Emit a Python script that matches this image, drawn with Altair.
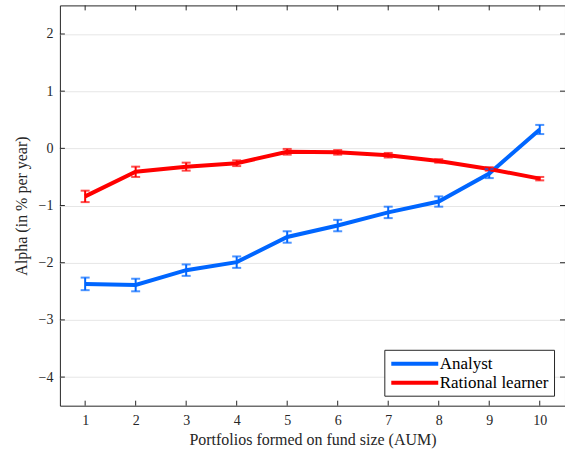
import altair as alt
import pandas as pd

# Portfolio deciles sorted by fund size
portfolios = [1, 2, 3, 4, 5, 6, 7, 8, 9, 10]

# Alpha (% per year) and half-width of the error bars
analyst_alpha = [-2.37, -2.39, -2.13, -1.99, -1.55, -1.35, -1.12, -0.93, -0.44, 0.33]
analyst_err = [0.11, 0.11, 0.10, 0.10, 0.10, 0.10, 0.10, 0.09, 0.08, 0.08]
rational_alpha = [-0.84, -0.41, -0.32, -0.26, -0.06, -0.07, -0.12, -0.22, -0.36, -0.53]
rational_err = [0.10, 0.09, 0.07, 0.05, 0.05, 0.04, 0.04, 0.03, 0.03, 0.03]

series_names = ["Analyst", "Rational learner"]
series_colors = ["#0066FF", "#FF0000"]

y_ticks = [-4, -3, -2, -1, 0, 1, 2]

rows = []
for name, vals, errs in [(series_names[0], analyst_alpha, analyst_err),
                         (series_names[1], rational_alpha, rational_err)]:
    for p, v, e in zip(portfolios, vals, errs):
        rows.append({"portfolio": p, "alpha": v, "lo": v - e, "hi": v + e, "series": name})
df = pd.DataFrame(rows)

W, H = 506, 401
FONT = "Liberation Serif"
INK = "#262626"
Y_TITLE = "Alpha (in % per year)"

x_scale = alt.Scale(domain=[0.5, 10.5], nice=False, zero=False)
y_scale = alt.Scale(domain=[-4.5, 2.5], nice=False, zero=False)
color_scale = alt.Scale(domain=series_names, range=series_colors)

base = alt.Chart(df)

lines = base.mark_line(strokeWidth=4, strokeCap="butt").encode(
    x=alt.X("portfolio:Q", scale=x_scale,
            axis=alt.Axis(values=portfolios, title="Portfolios formed on fund size (AUM)",
                          grid=False, domain=False, tickSize=0, labelPadding=8,
                          titlePadding=4, format="d", labelFontSize=14)),
    y=alt.Y("alpha:Q", scale=y_scale,
            axis=alt.Axis(values=y_ticks, title=Y_TITLE,
                          grid=True, domain=False, tickSize=0, labelPadding=7,
                          titlePadding=9, format="d", labelFontSize=14)),
    color=alt.Color("series:N", scale=color_scale, sort=series_names,
                    legend=alt.Legend(title=None, orient="none", legendX=325, legendY=345,
                                      symbolType="M-3.36,0H3.36", symbolStrokeWidth=4,
                                      symbolSize=196, symbolOffset=16.5,
                                      labelFont=FONT, labelFontSize=17, labelOffset=16,
                                      labelColor="#000000", padding=5, rowPadding=2,
                                      strokeColor=INK, fillColor="white",
                                      cornerRadius=0)),
)

bars = base.mark_errorbar(ticks=alt.TickConfig(size=9, thickness=2), thickness=2).encode(
    x=alt.X("portfolio:Q", scale=x_scale),
    y=alt.Y("lo:Q", scale=y_scale, title=Y_TITLE),
    y2="hi:Q",
    color=alt.Color("series:N", scale=color_scale, sort=series_names, legend=None),
)

# inward ticks on all four sides of the box
xt = alt.Chart(pd.DataFrame({"p": portfolios}))
yt = alt.Chart(pd.DataFrame({"v": y_ticks}))
tick_style = dict(color=INK, strokeWidth=1)
x_bottom = xt.mark_rule(**tick_style).encode(
    x=alt.X("p:Q", scale=x_scale), y=alt.value(H), y2=alt.value(H - 5))
x_top = xt.mark_rule(**tick_style).encode(
    x=alt.X("p:Q", scale=x_scale), y=alt.value(0), y2=alt.value(5))
y_left = yt.mark_rule(**tick_style).encode(
    y=alt.Y("v:Q", scale=y_scale), x=alt.value(0), x2=alt.value(5))
y_right = yt.mark_rule(**tick_style).encode(
    y=alt.Y("v:Q", scale=y_scale), x=alt.value(W), x2=alt.value(W - 5))

chart = alt.layer(lines, bars, x_bottom, x_top, y_left, y_right).properties(
    width=W, height=H,
    autosize=alt.AutoSizeParams(type="none"),
    padding={"left": 60, "top": 5, "right": 0, "bottom": 48},
    background="white",
).configure_view(
    stroke=INK, strokeWidth=1,
).configure_axis(
    labelFont=FONT, titleFont=FONT, titleFontSize=16,
    labelColor=INK, titleColor=INK, titleFontWeight="normal",
    gridColor="#E6E6E6", gridWidth=1,
)

chart.save("out.html", embed_options={"renderer": "svg", "actions": False})
